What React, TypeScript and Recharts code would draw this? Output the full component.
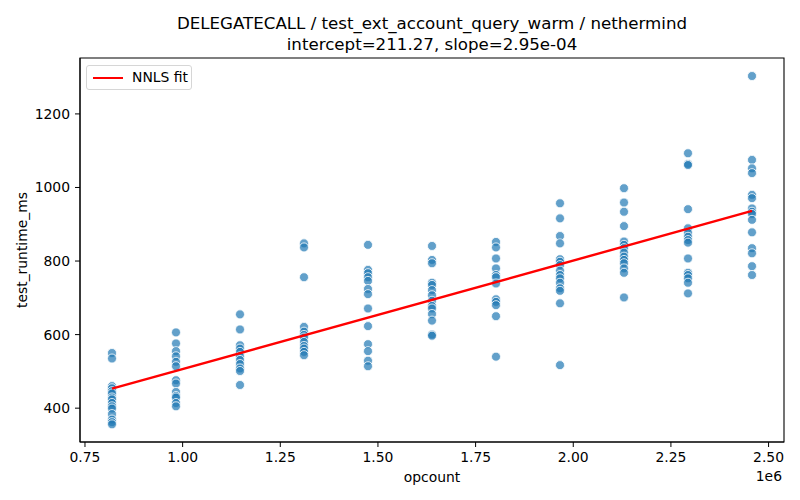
import React from 'react';
import { ScatterChart, Scatter, XAxis, YAxis, ZAxis, ReferenceArea, Label } from 'recharts';

const opcountLevels = [
  819200, 983040, 1146880, 1310720, 1474560, 1638400, 1802240, 1966080, 2129920, 2293760, 2457600,
];

// runtimes (ms) per opcount level
const runtimeByLevel: number[][] = [
  [550, 535, 460, 454, 446, 440, 429, 424, 414, 405, 399, 384, 369, 362, 356],
  [606, 576, 555, 541, 526, 514, 476, 467, 444, 433, 429, 414, 405],
  [655, 614, 571, 562, 553, 541, 531, 520, 508, 501, 463],
  [848, 837, 756, 621, 608, 599, 592, 580, 569, 562, 553, 544],
  [844, 776, 767, 756, 746, 724, 710, 671, 623, 574, 555, 529, 514],
  [841, 803, 794, 741, 735, 721, 707, 692, 678, 671, 656, 638, 600, 597],
  [852, 837, 807, 780, 762, 756, 739, 696, 689, 680, 650, 540],
  [957, 916, 868, 848, 805, 798, 789, 774, 762, 753, 741, 726, 719, 685, 517],
  [998, 959, 934, 895, 853, 844, 835, 823, 812, 803, 794, 780, 768, 701],
  [1093, 1064, 1061, 941, 889, 877, 866, 857, 850, 807, 768, 762, 753, 741, 712],
  [1303, 1075, 1052, 1039, 980, 971, 943, 934, 928, 912, 878, 835, 821, 786, 762],
];

const xTicks = [750000, 1000000, 1250000, 1500000, 1750000, 2000000, 2250000, 2500000];
const yTicks = [400, 600, 800, 1000, 1200];

const intercept = 211.27;
const slope = 2.95e-4;

const points = opcountLevels.flatMap((op, i) =>
  runtimeByLevel[i].map((ms) => ({ opcount: op, ms }))
);

const fitLine = [opcountLevels[0], opcountLevels[opcountLevels.length - 1]].map((op) => ({
  opcount: op,
  ms: intercept + slope * op,
}));

const X_DOMAIN: [number, number] = [737280, 2539520];
const Y_DOMAIN: [number, number] = [308, 1352];

const font = '"DejaVu Sans", sans-serif';
const tickStyle = { fontSize: 13.9, fill: '#000', fontFamily: font };

export default function App() {
  return (
    <div style={{ position: 'absolute', left: 0, top: 0, width: 800, height: 500, background: '#fff', fontFamily: font }}>
      <div style={{ position: 'absolute', left: 32, width: 800, top: 13, textAlign: 'center', fontSize: 16.67, lineHeight: '21px', color: '#000' }}>
        <div>DELEGATECALL / test_ext_account_query_warm / nethermind</div>
        <div>intercept=211.27, slope=2.95e-04</div>
      </div>
      <ScatterChart width={800} height={500} margin={{ top: 58, right: 16, bottom: 0, left: 0 }}>
        <XAxis
          type="number"
          dataKey="opcount"
          domain={X_DOMAIN}
          ticks={xTicks}
          allowDataOverflow
          tickFormatter={(v: number) => (v / 1e6).toFixed(2)}
          height={58}
          tickSize={5}
          tickMargin={5}
          stroke="#000"
          tick={tickStyle}
        >
          <Label value="opcount" position="insideBottom" offset={18} style={{ ...tickStyle, textAnchor: 'middle' }} />
        </XAxis>
        <YAxis
          type="number"
          dataKey="ms"
          domain={Y_DOMAIN}
          ticks={yTicks}
          allowDataOverflow
          width={80}
          tickSize={5}
          tickMargin={5}
          stroke="#000"
          tick={tickStyle}
        >
          <Label value="test_runtime_ms" angle={-90} position="insideLeft" offset={22} style={{ ...tickStyle, textAnchor: 'middle' }} />
        </YAxis>
        <ZAxis range={[66, 66]} />
        <ReferenceArea x1={X_DOMAIN[0]} x2={X_DOMAIN[1]} y1={Y_DOMAIN[0]} y2={Y_DOMAIN[1]} fill="none" stroke="#000" strokeWidth={1.1} />
        <Scatter
          data={points}
          fill="#1f77b4"
          fillOpacity={0.7}
          stroke="#fff"
          strokeWidth={0.8}
          isAnimationActive={false}
        />
        <Scatter
          data={fitLine}
          line={{ stroke: '#ff0000', strokeWidth: 2.4 }}
          shape={() => null}
          isAnimationActive={false}
        />
      </ScatterChart>
      <div style={{ position: 'absolute', left: 480, top: 468, width: 302, textAlign: 'right', fontSize: 13.9, color: '#000' }}>1e6</div>
      <div
        style={{
          position: 'absolute', left: 86, top: 65, width: 106, height: 25, boxSizing: 'border-box',
          border: '1px solid #d6d6d6', borderRadius: 3, background: 'rgba(255,255,255,0.8)',
          fontSize: 13.9, color: '#000',
        }}
      >
        <div style={{ position: 'absolute', left: 6, top: 10.8, width: 30, height: 2.4, background: '#ff0000' }} />
        <div style={{ position: 'absolute', left: 45, top: 3, whiteSpace: 'nowrap' }}>NNLS fit</div>
      </div>
    </div>
  );
}
